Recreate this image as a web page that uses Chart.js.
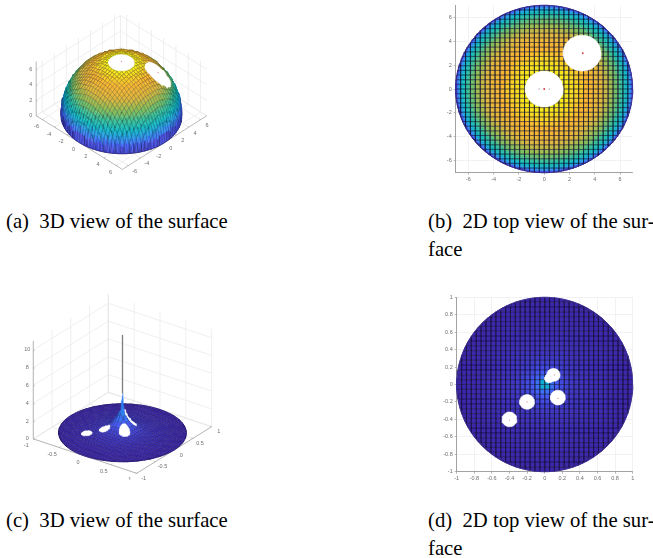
<!DOCTYPE html>
<html>
<head>
<meta charset="utf-8">
<script src="https://cdn.jsdelivr.net/npm/chart.js"></script>
<style>
  html, body { margin: 0; padding: 0; background: #fff; }
  body { position: relative; width: 653px; height: 558px; overflow: hidden; }
  canvas { position: absolute; filter: blur(0.3px); }
  .caption { position: absolute; font-family: "Liberation Serif", serif; font-size: 20.7px; line-height: 28px; color: #000; white-space: pre; }
</style>
</head>
<body>
<canvas id="panelA" width="230" height="190" style="left:0;top:0"></canvas>
<canvas id="panelB" width="223" height="190" style="left:430px;top:0"></canvas>
<canvas id="panelC" width="230" height="195" style="left:0;top:285px"></canvas>
<canvas id="panelD" width="223" height="205" style="left:430px;top:285px"></canvas>
<div class="caption" style="left:6px;top:207px">(a)  3D view of the surface</div>
<div class="caption" style="left:428px;top:207px">(b)  2D top view of the sur-
face</div>
<div class="caption" style="left:6px;top:506px">(c)  3D view of the surface</div>
<div class="caption" style="left:428px;top:506px">(d)  2D top view of the sur-
face</div>
<script>
// height of each surface, read ring by ring from the pictures
const domeRadii = [0, 0.5, 1, 1.5, 2, 2.5, 3, 3.25, 3.5, 3.75, 4, 4.25, 4.5, 4.75, 5, 5.25, 5.5, 5.6, 5.7, 5.8, 5.9, 6, 6.1, 6.2, 6.3, 6.4, 6.5, 6.6, 6.7, 6.8, 6.9, 6.95, 7];
const domeHeights = [7, 6.98, 6.93, 6.84, 6.71, 6.54, 6.32, 6.2, 6.06, 5.91, 5.74, 5.56, 5.36, 5.15, 4.9, 4.63, 4.33, 4.2, 4.06, 3.92, 3.77, 3.61, 3.43, 3.25, 3.05, 2.84, 2.6, 2.33, 2.03, 1.66, 1.18, 0.84, 0];
const coneRadii = [0, 0.03, 0.056, 0.07, 0.08, 0.09, 0.1, 0.11, 0.12, 0.13, 0.14, 0.15, 0.16, 0.17, 0.18, 0.19, 0.2, 0.22, 0.24, 0.26, 0.28, 0.3, 0.32, 0.35, 0.4, 0.45, 0.5, 0.57, 0.65, 0.7, 0.85, 1];
const coneHeights = [8, 3, 2.3, 2.05, 1.9, 1.8, 1.7, 1.6, 1.5, 1.42, 1.34, 1.26, 1.18, 1.1, 1.03, 0.97, 0.91, 0.8, 0.72, 0.65, 0.59, 0.54, 0.5, 0.45, 0.37, 0.32, 0.27, 0.22, 0.16, 0.14, 0.06, 0];

// the thin needle in the middle of panel (c)
const needleHeights = [2.3, 3, 3.6, 4.4];
const needleHalfWidths = [0.03, 0.018, 0.012, 0.007];
const needleTop = 11;

// holes cut out of the surfaces
const domeHoleX = [0, 3];
const domeHoleY = [0, 3];
const domeHoleR = [1.5, 1.5];
const coneHoleX = [0.1, 0.05, 0.15, -0.2, -0.4];
const coneHoleY = [0.11, 0.07, -0.15, -0.2, -0.4];
const coneHoleR = [0.075, 0.05, 0.085, 0.085, 0.085];

// small marks left inside the holes
const domeMarkX = [0, 3.05];
const domeMarkY = [0, 3];
const domeSideMarkX = [-0.4, 0.4];
const domeSideMarkY = [0, 0];
const coneMarkX = [0.11, 0.15, -0.2, -0.4];
const coneMarkY = [0.11, -0.16, -0.2, -0.41];

// tick values and labels
const domeTicks = [-6, -4, -2, 0, 2, 4, 6];
const domeTickLabels = ['-6', '-4', '-2', '0', '2', '4', '6'];
const domeZTicks = [0, 2, 4, 6];
const domeZLabels = ['0', '2', '4', '6'];
const coneTicks3d = [-1, -0.5, 0, 0.5, 1];
const coneTickLabels3d = ['-1', '-0.5', '0', '0.5', '1'];
const coneZTicks = [0, 2, 4, 6, 8, 10];
const coneZLabels = ['0', '2', '4', '6', '8', '10'];
const coneTicks2d = [-1, -0.8, -0.6, -0.4, -0.2, 0, 0.2, 0.4, 0.6, 0.8, 1];
const coneTickLabels2d = ['-1', '-0.8', '-0.6', '-0.4', '-0.2', '0', '0.2', '0.4', '0.6', '0.8', '1'];

// parula colour lookup
const parulaStops = [[62, 38, 168], [70, 93, 250], [39, 150, 235], [11, 184, 195], [52, 190, 150], [140, 191, 88], [222, 184, 62], [250, 182, 48], [249, 251, 20]];

const gridCells = 36;
const tickFont = { family: '"Liberation Sans", Arial, sans-serif', size: 5.5 };
const tickColor = '#6e6e6e';

function parula(t) {
  const p = Math.min(Math.max(t, 0), 1) * (parulaStops.length - 1);
  const i = Math.min(Math.floor(p), parulaStops.length - 2);
  const f = p - i;
  const c = parulaStops[i].map((v, k) => Math.round(v + (parulaStops[i + 1][k] - v) * f));
  return `rgb(${c[0]},${c[1]},${c[2]})`;
}

function ringHeight(radii, heights, r) {
  let best = 0;
  radii.forEach((v, i) => { if (Math.abs(v - r) < Math.abs(radii[best] - r)) best = i; });
  return heights[best];
}

// one mesh cell: an outline plus one or more coloured pieces
// rim cells are split so their colour runs down to the edge without steps
function buildCells(cfg, zCap) {
  const extent = cfg.extent, step = 2 * extent / gridCells;
  const vertex = (i, j) => {
    let x = -extent + i * step, y = -extent + j * step;
    const r = Math.hypot(x, y);
    if (r > extent) { x *= extent / r; y *= extent / r; }
    return { x, y, r, z: Math.min(ringHeight(cfg.radii, cfg.heights, Math.min(r, extent)), zCap), inside: r <= extent };
  };
  const cells = [];
  for (let i = 0; i < gridCells; i++) {
    for (let j = 0; j < gridCells; j++) {
      const corners = [vertex(i, j), vertex(i + 1, j), vertex(i + 1, j + 1), vertex(i, j + 1)];
      if (!corners.some(c => c.inside)) continue;
      const farEnough = corners.some(c => c.r > extent * 0.85);
      const n = farEnough ? cfg.rimSplit : 1;
      const pieces = [];
      for (let a = 0; a < n; a++) {
        for (let b = 0; b < n; b++) {
          const q = [vertex(i + a / n, j + b / n), vertex(i + (a + 1) / n, j + b / n), vertex(i + (a + 1) / n, j + (b + 1) / n), vertex(i + a / n, j + (b + 1) / n)];
          if (!q.some(c => c.inside)) continue;
          pieces.push({ corners: q, colour: parula(q.reduce((s, c) => s + c.z, 0) / 4 / cfg.zMax) });
        }
      }
      const outline = [];
      for (let k = 0; k < n; k++) outline.push(vertex(i + k / n, j));
      for (let k = 0; k < n; k++) outline.push(vertex(i + 1, j + k / n));
      for (let k = 0; k < n; k++) outline.push(vertex(i + 1 - k / n, j + 1));
      for (let k = 0; k < n; k++) outline.push(vertex(i, j + 1 - k / n));
      outline.push(outline[0]);
      cells.push({ corners, pieces, outline });
    }
  }
  return cells;
}

function ringPoints(cx, cy, r, count) {
  const pts = [];
  for (let k = 0; k <= count; k++) {
    const a = 2 * Math.PI * k / count;
    pts.push({ x: cx + r * Math.cos(a), y: cy + r * Math.sin(a) });
  }
  return pts;
}

function polygon(data, fill, stroke, width) {
  return { data, showLine: true, fill: 'shape', backgroundColor: fill, borderColor: stroke, borderWidth: width, pointRadius: 0, tension: 0, clip: false };
}

function line(data, stroke, width) {
  return { data, showLine: true, fill: false, borderColor: stroke, borderWidth: width, pointRadius: 0, tension: 0, clip: false };
}

function dots(data, colour, size) {
  return { data, showLine: false, pointRadius: size, pointBackgroundColor: colour, pointBorderWidth: 0, clip: false };
}

// dataset 0 is painted last, so the outline comes before its pieces
function pushCell(datasets, cell, toPoint, meshColour, meshWidth) {
  datasets.push(line(cell.outline.map(toPoint), meshColour, meshWidth));
  cell.pieces.forEach(piece => {
    const pts = piece.corners.map(toPoint);
    datasets.push(polygon(pts.concat(pts[0]), piece.colour, piece.colour, 0.3));
  });
}

const baseOptions = {
  responsive: false,
  animation: false,
  events: [],
  plugins: { legend: { display: false }, tooltip: { enabled: false } }
};

// flat view: ordinary linear axes
function axis2d(extent, ticks, labels, fitSize, vertical) {
  return {
    type: 'linear', min: -extent, max: extent,
    border: { color: '#a2a2a2', width: 1 },
    grid: { color: '#ececec', lineWidth: 0.7, tickLength: 2, tickColor: '#999' },
    ticks: { font: tickFont, color: tickColor, padding: vertical ? 2 : 1.5, autoSkip: false, maxRotation: 0, callback: (v, i) => labels[i] },
    afterBuildTicks: s => { s.ticks = ticks.map(value => ({ value })); },
    afterFit: s => { if (vertical) s.width = fitSize; else s.height = fitSize; }
  };
}

function drawFlat(id, cfg) {
  const datasets = [];
  datasets.push(dots(cfg.markX.map((x, i) => ({ x, y: cfg.markY[i] })), cfg.markColour, cfg.markSize));
  datasets.push(dots(cfg.sideMarkX.map((x, i) => ({ x, y: cfg.sideMarkY[i] })), '#a9a9a9', 0.7));
  cfg.holeX.forEach((x, i) => datasets.push(polygon(ringPoints(x, cfg.holeY[i], cfg.holeR[i], 40), '#fff', '#fff', 0.5)));
  datasets.push(line(ringPoints(0, 0, cfg.extent, 90), '#3a2f9c', 0.9));
  const outlines = [], fills = [];
  buildCells(cfg, Infinity).forEach(c => {
    outlines.push(line(c.outline.map(p => ({ x: p.x, y: p.y })), cfg.meshColour, cfg.meshWidth));
    c.pieces.forEach(piece => {
      const pts = piece.corners.map(p => ({ x: p.x, y: p.y }));
      fills.push(polygon(pts.concat(pts[0]), piece.colour, piece.colour, 0.3));
    });
  });
  datasets.push(...outlines, ...fills);
  new Chart(document.getElementById(id), {
    type: 'scatter',
    data: { datasets },
    options: {
      ...baseOptions,
      layout: { padding: cfg.padding },
      scales: {
        x: axis2d(cfg.extent, cfg.ticks, cfg.labels, cfg.xFit, false),
        y: axis2d(cfg.extent, cfg.ticks, cfg.labels, cfg.yFit, true)
      }
    }
  });
}

// 3D view: points are projected on to the canvas plane, hidden axes place them
const tickLabels3d = {
  id: 'tickLabels3d',
  afterDraw(chart, args, opts) {
    const ctx = chart.ctx;
    ctx.save();
    ctx.font = `${tickFont.size}px ${tickFont.family}`;
    ctx.fillStyle = tickColor;
    ctx.textAlign = 'center';
    ctx.textBaseline = 'middle';
    opts.items.forEach(it => {
      ctx.fillText(it.text, chart.scales.x.getPixelForValue(it.x), chart.scales.y.getPixelForValue(it.y));
    });
    ctx.restore();
  }
};

function draw3d(id, cfg) {
  const canvas = document.getElementById(id);
  const e = cfg.extent;
  const project = (x, y, z) => ({
    x: cfg.centre[0] + x * cfg.xVec[0] + y * cfg.yVec[0],
    y: cfg.centre[1] + x * cfg.xVec[1] + y * cfg.yVec[1] + z * cfg.zVec[1]
  });
  // camera direction, used to paint the surface from back to front
  const nx = cfg.yVec[0] * cfg.zVec[1], ny = -cfg.xVec[0] * cfg.zVec[1], nz = cfg.xVec[0] * cfg.yVec[1] - cfg.yVec[0] * cfg.xVec[1];
  const sign = nz < 0 ? -1 : 1;
  const depth = p => sign * (nx * p.x + ny * p.y + nz * p.z);

  const cells = buildCells(cfg, cfg.meshCap);
  cells.forEach(c => { c.depth = c.corners.reduce((s, p) => s + depth(p), 0) / 4; });
  cells.sort((a, b) => b.depth - a.depth);
  const rimHeight = (x, y) => Math.min(ringHeight(cfg.radii, cfg.heights, Math.hypot(x, y)), cfg.meshCap);

  const datasets = [];
  if (cfg.needle) {
    const u = cfg.needle.widthScale;
    const top = project(0, 0, needleTop);
    const low = project(0, 0, needleHeights[needleHeights.length - 1]);
    datasets.push(line([low, top], '#7d7d7d', 1.3));
    needleHeights.slice(1).forEach((z, i) => {
      const a = project(0, 0, needleHeights[i]), b = project(0, 0, z);
      const wa = needleHalfWidths[i] * u, wb = needleHalfWidths[i + 1] * u;
      const pts = [{ x: a.x - wa, y: a.y }, { x: a.x + wa, y: a.y }, { x: b.x + wb, y: b.y }, { x: b.x - wb, y: b.y }];
      datasets.push(polygon(pts.concat(pts[0]), '#2f7ff2', '#2f7ff2', 0.4));
    });
  }
  datasets.push(dots(cfg.markX.map((x, i) => project(x, cfg.markY[i], rimHeight(x, cfg.markY[i]))), '#e08a90', 0.6));
  cfg.holeX.forEach((hx, i) => {
    const rim = ringPoints(hx, cfg.holeY[i], cfg.holeR[i], 40).map(p => project(p.x, p.y, rimHeight(p.x, p.y)));
    datasets.push(polygon(rim, '#fff', '#fff', 0.5));
  });
  cells.forEach(c => pushCell(datasets, c, p => project(p.x, p.y, p.z), cfg.meshColour, cfg.meshWidth));
  datasets.push(line(ringPoints(0, 0, e, 90).map(p => project(p.x, p.y, 0)), '#2c2478', 0.7));

  // axis edges, then walls and floor
  const axisGrey = '#a8a8a8', wallGrey = '#e8e8e8';
  const lastZ = cfg.zTicks[cfg.zTicks.length - 1];
  datasets.push(line([project(-e, -e, 0), project(e, -e, 0), project(e, e, 0)], axisGrey, 0.8));
  datasets.push(line([project(-e, -e, 0), project(-e, -e, cfg.zTop)], axisGrey, 0.8));
  const tickRun = e * 0.03;
  cfg.ticks.forEach(v => {
    datasets.push(line([project(v, -e, 0), project(v, -e + tickRun, 0)], axisGrey, 0.6));
    datasets.push(line([project(e, v, 0), project(e - tickRun, v, 0)], axisGrey, 0.6));
  });
  cfg.zTicks.forEach(z => {
    datasets.push(line([project(-e, -e, z), project(-e + tickRun, -e, z)], axisGrey, 0.6));
    datasets.push(line([project(-e, -e, z), project(-e, e, z), project(e, e, z)], wallGrey, 0.7));
  });
  cfg.ticks.forEach(v => {
    datasets.push(line([project(v, -e, 0), project(v, e, 0), project(v, e, cfg.wallTop)], wallGrey, 0.7));
    datasets.push(line([project(-e, v, 0), project(e, v, 0)], wallGrey, 0.7));
    datasets.push(line([project(-e, v, 0), project(-e, v, cfg.wallTop)], wallGrey, 0.7));
  });
  datasets.push(line([project(-e, -e, 0), project(-e, e, 0), project(e, e, 0)], wallGrey, 0.7));
  datasets.push(line([project(-e, e, 0), project(-e, e, lastZ)], wallGrey, 0.7));

  const items = [];
  cfg.ticks.forEach((v, i) => {
    const a = project(v, -e, 0), b = project(e, v, 0);
    items.push({ text: cfg.labels[i], x: a.x + cfg.xLabelShift[0], y: a.y + cfg.xLabelShift[1] });
    items.push({ text: cfg.labels[i], x: b.x + cfg.yLabelShift[0], y: b.y + cfg.yLabelShift[1] });
  });
  cfg.zTicks.forEach((z, i) => {
    const a = project(-e, -e, z);
    items.push({ text: cfg.zLabels[i], x: a.x + cfg.zLabelShift, y: a.y });
  });

  new Chart(canvas, {
    type: 'scatter',
    data: { datasets },
    options: {
      ...baseOptions,
      layout: { padding: 0 },
      plugins: { ...baseOptions.plugins, tickLabels3d: { items } },
      scales: {
        x: { type: 'linear', display: false, min: 0, max: canvas.width },
        y: { type: 'linear', display: false, min: 0, max: canvas.height, reverse: true }
      }
    },
    plugins: [tickLabels3d]
  });
}

draw3d('panelA', {
  extent: 7, radii: domeRadii, heights: domeHeights, zMax: 7, zTop: 7, wallTop: 6.6, meshCap: Infinity, rimSplit: 3,
  centre: [121.7, 116.7],
  xVec: [6.38, 4], yVec: [6.24, -4], zVec: [0, -8.1],
  meshColour: 'rgba(10,10,20,0.42)', meshWidth: 0.45,
  holeX: domeHoleX, holeY: domeHoleY, holeR: domeHoleR,
  markX: [0, 3], markY: [0, 3],
  ticks: domeTicks, labels: domeTickLabels, zTicks: domeZTicks, zLabels: domeZLabels,
  xLabelShift: [-6, 7], yLabelShift: [6.5, 6.2], zLabelShift: -5.5
});

drawFlat('panelB', {
  extent: 7, radii: domeRadii, heights: domeHeights, zMax: 7, rimSplit: 3,
  meshColour: 'rgba(15,15,45,0.6)', meshWidth: 0.6,
  holeX: domeHoleX, holeY: domeHoleY, holeR: domeHoleR,
  markX: domeMarkX, markY: domeMarkY, markColour: '#d8333a', markSize: 0.9,
  sideMarkX: domeSideMarkX, sideMarkY: domeSideMarkY,
  ticks: domeTicks, labels: domeTickLabels,
  padding: { left: 0, top: 4, right: 20.3, bottom: 0 }, xFit: 17.3, yFit: 25.7
});

draw3d('panelC', {
  extent: 1, radii: coneRadii, heights: coneHeights, zMax: 11, zTop: 11, wallTop: 11, meshCap: 2.6, rimSplit: 1,
  centre: [122.5, 147.8],
  xVec: [51.7, 17.2], yVec: [37.5, -23.3], zVec: [0, -8.9],
  meshColour: 'rgba(10,10,40,0.5)', meshWidth: 0.4,
  needle: { widthScale: 64 },
  holeX: coneHoleX, holeY: coneHoleY, holeR: coneHoleR,
  markX: [], markY: [],
  ticks: coneTicks3d, labels: coneTickLabels3d, zTicks: coneZTicks, zLabels: coneZLabels,
  xLabelShift: [-7, 6.5], yLabelShift: [7, 5], zLabelShift: -6
});

drawFlat('panelD', {
  extent: 1, radii: coneRadii, heights: coneHeights, zMax: 11, rimSplit: 1,
  meshColour: 'rgba(15,15,45,0.52)', meshWidth: 0.6,
  holeX: coneHoleX, holeY: coneHoleY, holeR: coneHoleR,
  markX: coneMarkX, markY: coneMarkY, markColour: '#e08a90', markSize: 0.6,
  sideMarkX: [], sideMarkY: [],
  ticks: coneTicks2d, labels: coneTickLabels2d,
  padding: { left: 0, top: 12.3, right: 20.3, bottom: 0 }, xFit: 18.3, yFit: 26.7
});
</script>
</body>
</html>
